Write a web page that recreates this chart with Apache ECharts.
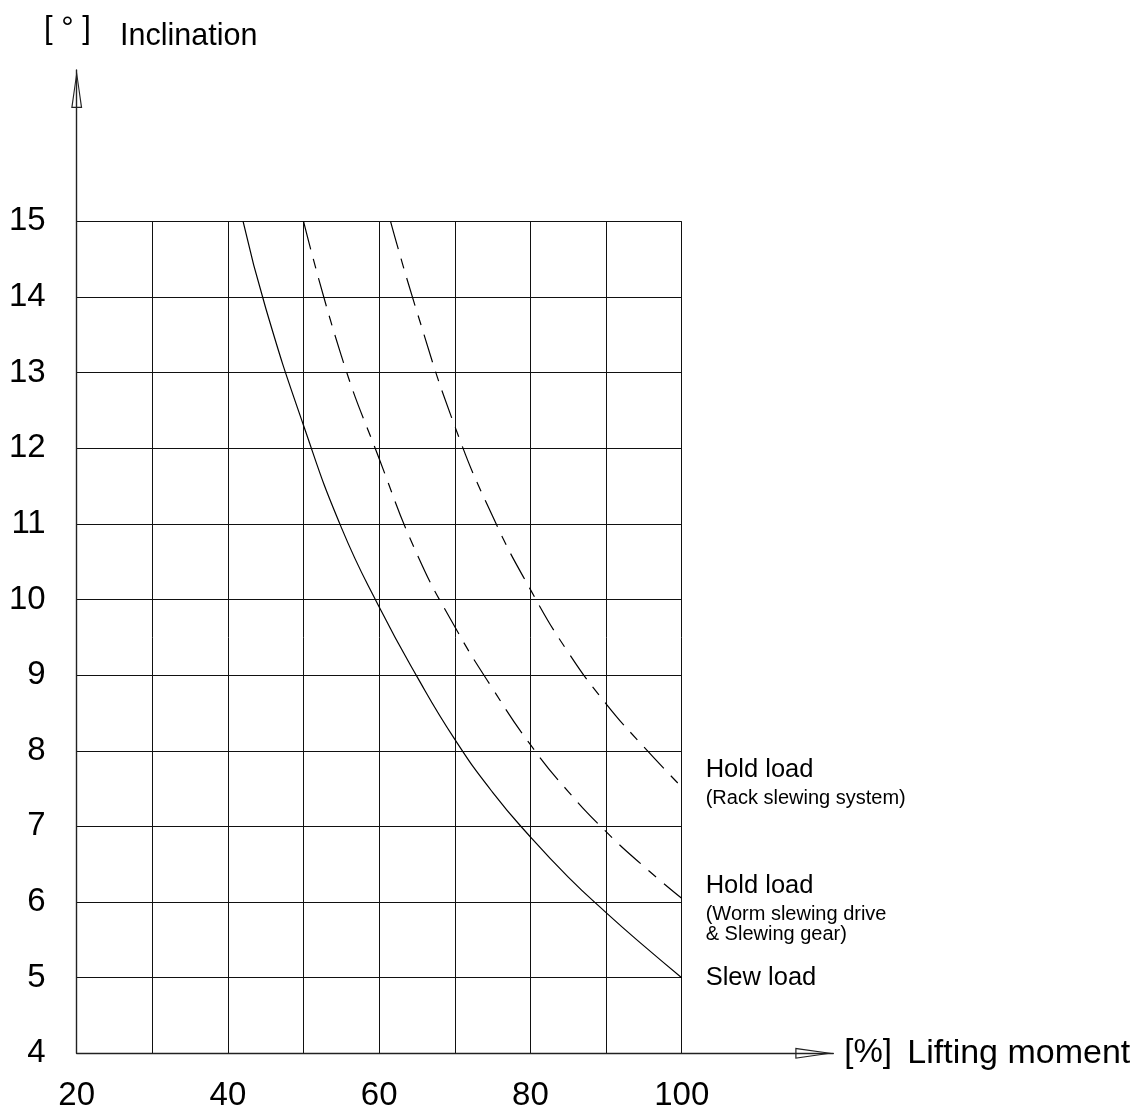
<!DOCTYPE html>
<html><head><meta charset="utf-8">
<script src="https://cdn.jsdelivr.net/npm/echarts@6/dist/echarts.min.js"></script>
<style>html,body{margin:0;padding:0;background:#fff}#c{width:1142px;height:1113px}</style>
</head><body><div id="c"></div>
<script>
// ---- data ----
const xMin = 20, xMax = 100, xStep = 10;
const yMin = 4, yMax = 15, yStep = 1;
const xLabelEvery = 20;
// Slew load (solid)
const slewLoad = [[42.0,15],[45,13.85],[50,12.3],[55,10.95],[60,9.9],[65,8.98],[70,8.15],[75,7.45],[80,6.86],[85,6.33],[90,5.86],[95,5.42],[100,5.0]];
// Hold load (Worm slewing drive & Slewing gear)
const holdWorm = [[50,15],[55,13.22],[60,11.86],[65,10.6],[70,9.64],[75,8.82],[80,8.08],[85,7.46],[90,6.93],[95,6.47],[100,6.05]];
// Hold load (Rack slewing system)
const holdRack = [[61.5,15],[65,13.8],[70,12.29],[75,11.1],[80,10.13],[85,9.3],[90,8.62],[95,8.05],[100,7.52]];
const xName = ['[%]', 'Lifting moment'];
const yName = ['[ ° ]', 'Inclination'];
const labelRack = ['Hold load', '(Rack slewing system)'];
const labelWorm = ['Hold load', '(Worm slewing drive', '& Slewing gear)'];
const labelSlew = ['Slew load'];

// ---- chart ----
const FONT = "'Liberation Sans', Arial, sans-serif";
const arrow = 'path://M5.5 0 L11 38 L0 38 Z M5.5 7 L1.4 36.8 L9.6 36.8 Z';
const chart = echarts.init(document.getElementById('c'), null, {renderer: 'canvas'});

const rich = {
  t: {fontSize: 25.5, lineHeight: 36, fontFamily: FONT, color: '#000'},
  s: {fontSize: 20, lineHeight: 20, fontFamily: FONT, color: '#000'}
};
function endLabel(lines, dy) {
  return {
    show: true, distance: 24, offset: [0, dy],
    formatter: () => lines.map((l, i) => i === 0 ? '{t|' + l + '}' : '{s|' + l + '}').join('\n'),
    rich: rich
  };
}

const option = {
  animation: false,
  backgroundColor: '#fff',
  grid: [
    {left: 76.7, right: 1142 - 681.7, top: 221.3, bottom: 1113 - 1053.3},
    {left: 76.7, right: 1142 - 833.3, top: 70, bottom: 1113 - 1053.3}
  ],
  xAxis: [
    {
      type: 'value', gridIndex: 0, min: xMin, max: xMax, interval: xStep,
      axisLine: {show: false}, axisTick: {show: false},
      splitLine: {show: true, lineStyle: {color: '#111', width: 1}},
      axisLabel: {
        fontSize: 33, fontFamily: FONT, color: '#000', margin: 26,
        formatter: v => (v % xLabelEvery === 0 ? String(v) : '')
      }
    },
    {
      type: 'value', gridIndex: 1, min: 0, max: 1,
      axisLine: {show: true, lineStyle: {color: '#222', width: 1.4},
        symbol: ['none', arrow], symbolSize: [11, 38], symbolOffset: [0, -19]},
      axisTick: {show: false}, axisLabel: {show: false}, splitLine: {show: false},
      name: '{a|' + xName[0] + '}{b|' + xName[1] + '}',
      nameLocation: 'end', nameGap: 11,
      nameTextStyle: {
        verticalAlign: 'middle',
        rich: {
          a: {fontSize: 33, fontFamily: FONT, color: '#000', width: 63},
          b: {fontSize: 34, fontFamily: FONT, color: '#000'}
        }
      }
    }
  ],
  yAxis: [
    {
      type: 'value', gridIndex: 0, min: yMin, max: yMax, interval: yStep,
      axisLine: {show: false}, axisTick: {show: false},
      splitLine: {show: true, lineStyle: {color: '#111', width: 1}},
      axisLabel: {fontSize: 33, fontFamily: FONT, color: '#000', margin: 31}
    },
    {
      type: 'value', gridIndex: 1, min: 0, max: 1,
      axisLine: {show: true, lineStyle: {color: '#222', width: 1.4},
        symbol: ['none', arrow], symbolSize: [11, 38], symbolOffset: [0, -19]},
      axisTick: {show: false}, axisLabel: {show: false}, splitLine: {show: false}
    }
  ],
  graphic: [
    {type: 'text', x: 44, y: 29, style: {text: yName[0], font: '31px ' + FONT, fill: '#000', verticalAlign: 'middle'}},
    {type: 'text', x: 120, y: 37, style: {text: yName[1], font: '30.5px ' + FONT, fill: '#000', verticalAlign: 'middle'}}
  ],
  series: [
    {
      type: 'line', name: 'Slew load', data: slewLoad, xAxisIndex: 0, yAxisIndex: 0,
      symbol: 'none', smooth: 0.5,
      lineStyle: {color: '#000', width: 1.2, type: 'solid'},
      endLabel: endLabel(labelSlew, 0)
    },
    {
      type: 'line', name: 'Hold load worm', data: holdWorm, xAxisIndex: 0, yAxisIndex: 0,
      symbol: 'none', smooth: 0.5,
      lineStyle: {color: '#000', width: 1.2, type: [29, 10, 10, 10]},
      endLabel: endLabel(labelWorm, 8)
    },
    {
      type: 'line', name: 'Hold load rack', data: holdRack, xAxisIndex: 0, yAxisIndex: 0,
      symbol: 'none', smooth: 0.5,
      lineStyle: {color: '#000', width: 1.2, type: [29, 10, 10, 10]},
      endLabel: endLabel(labelRack, -7)
    }
  ]
};
chart.setOption(option);
</script>
</body></html>
